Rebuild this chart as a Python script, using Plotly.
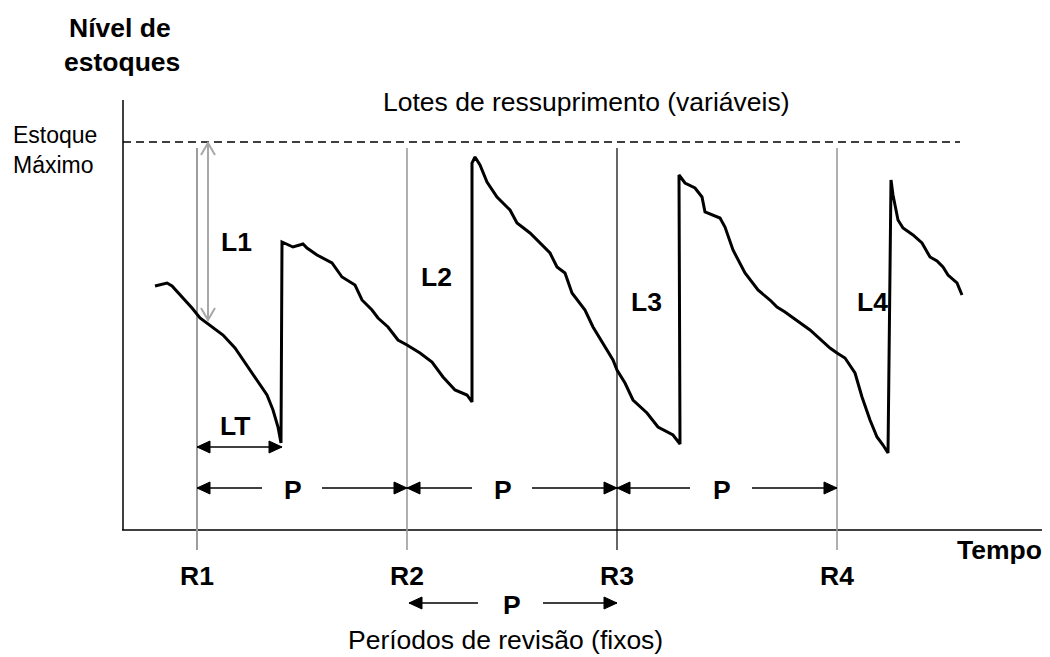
import plotly.graph_objects as go

# ---- data (time units, stock level units) ----
seg1_t = [32, 44, 49, 59, 69, 77, 89, 100, 112, 122, 134, 144, 150, 155, 158]
seg1_s = [244, 247, 244, 233, 222, 212, 203, 195, 182, 167, 150, 135, 120, 103, 87]
seg2_t = [159, 170, 180, 184, 194, 209, 219, 232, 239, 249, 255, 265, 275, 284, 297, 309, 320, 332, 344, 349]
seg2_s = [288, 283, 286, 282, 275, 267, 253, 245, 230, 220, 212, 203, 190, 185, 177, 168, 153, 140, 135, 128]
seg3_t = [349, 352, 357, 364, 374, 387, 394, 407, 417, 427, 434, 442, 449, 462, 470, 480, 490, 494, 502, 510, 524, 535, 550, 557]
seg3_s = [367, 373, 365, 348, 333, 320, 307, 297, 287, 277, 263, 257, 237, 220, 203, 187, 170, 160, 147, 130, 117, 103, 95, 86]
seg4_t = [556, 562, 572, 579, 582, 597, 602, 610, 622, 635, 647, 654, 662, 687, 707, 714, 722, 732, 739, 747, 754, 760, 765]
seg4_s = [355, 347, 342, 333, 318, 312, 303, 280, 257, 240, 230, 223, 218, 200, 182, 177, 172, 157, 133, 110, 93, 85, 77]
seg5_t = [768, 770, 775, 780, 790, 799, 807, 814, 820, 825, 834, 839]
seg5_s = [350, 335, 310, 302, 295, 287, 273, 269, 263, 255, 247, 235]

review_times = [74, 284, 494, 714]
review_labels = ["R1", "R2", "R3", "R4"]
lot_labels = ["L1", "L2", "L3", "L4"]
max_stock = 388

curve_t = seg1_t + seg2_t + seg3_t + seg4_t + seg5_t
curve_s = seg1_s + seg2_s + seg3_s + seg4_s + seg5_s

FONT = "Liberation Sans, Arial, Helvetica, sans-serif"
GRAY = "#9c9c9c"
FS = 26.5

fig = go.Figure()
fig.add_trace(go.Scatter(x=curve_t, y=curve_s, mode="lines",
                         line=dict(color="black", width=3), hoverinfo="skip",
                         showlegend=False))

shapes = []


def seg(x0, y0, x1, y1, color="black", width=1.5, dash=None):
    ln = dict(color=color, width=width)
    if dash:
        ln["dash"] = dash
    shapes.append(dict(type="line", x0=x0, y0=y0, x1=x1, y1=y1,
                       xref="x", yref="y", line=ln, layer="below"))


def tri(tx, ty, d, L=13, H=6):
    bx = tx - d * L
    shapes.append(dict(type="path",
                       path=f"M {tx},{ty} L {bx},{ty + H} L {bx},{ty - H} Z",
                       xref="x", yref="y", fillcolor="black",
                       line=dict(color="black", width=1)))


# axes
seg(0, 430, 0, 0, width=1.5)
seg(-1, 0, 923, 0, width=1.5)
# max stock dashed line
seg(0, max_stock, 837, max_stock, width=1.3, dash="8px,5px")
# review lines
rcolors = [GRAY, GRAY, "black", GRAY]
rwidths = [2, 1.6, 1.2, 1.6]
for t, c, w in zip(review_times, rcolors, rwidths):
    seg(t, 382, t, -20, color=c, width=w)

# L1 double arrow (open heads)
lx = 85
seg(lx, 387, lx, 210, color="#a8a8a8", width=2)
shapes.append(dict(type="path", path=f"M {lx-7},{387-12} L {lx},{387} L {lx+7},{387-12}",
                   xref="x", yref="y", line=dict(color="#a8a8a8", width=2)))
shapes.append(dict(type="path", path=f"M {lx-7},{210+12} L {lx},{210} L {lx+7},{210+12}",
                   xref="x", yref="y", line=dict(color="#a8a8a8", width=2)))

# LT arrow
ylt = 83
seg(74, ylt, 159, ylt)
tri(74, ylt, -1)
tri(159, ylt, 1)

# P arrows row
yp = 42
p_rows = [(74, 139, 199, 284, 170), (284, 349, 409, 494, 380), (494, 567, 629, 714, 599)]
for a, b, c, d, pc in p_rows:
    seg(a, yp, b, yp)
    tri(a, yp, -1)
    seg(c, yp, d, yp)
    tri(d, yp, 1)

# bottom P arrow
yb = -73
seg(286, yb, 355, yb)
tri(286, yb, -1)
seg(420, yb, 494, yb)
tri(494, yb, 1)

ann = []


def txt(x, y, s, size=FS, bold=False, xanchor="center", align="center"):
    ann.append(dict(x=x, y=y, xref="x", yref="y", text=f"<b>{s}</b>" if bold else s,
                    showarrow=False, xanchor=xanchor, yanchor="middle", align=align,
                    font=dict(family=FONT, size=size, color="black")))


txt(-3, 502, "Nível de", FS, True)
txt(-1, 468, "estoques", FS, True)
txt(-112, 380, "Estoque<br>Máximo", 23, xanchor="left", align="left")
txt(463, 428, "Lotes de ressuprimento (variáveis)", FS)
lot_pos = [(113, 288), (313, 253), (523, 228), (749, 228)]
for (x, y), s in zip(lot_pos, lot_labels):
    txt(x, y, s, FS, True)
txt(112, 104, "LT", FS, True)
for a, b, c, d, pc in p_rows:
    txt(pc, yp - 2, "P", FS, True)
txt(389, yb - 2, "P", FS, True)
for t, s in zip(review_times, review_labels):
    txt(t, -46, s, FS, True)
txt(876, -20, "Tempo", FS, True)
txt(382, -110, "Períodos de revisão (fixos)", FS)

# page has an 8px body margin: shift ranges so drawing lands where intended
fig.update_layout(
    width=1050, height=657,
    margin=dict(l=0, r=0, t=0, b=0),
    paper_bgcolor="white", plot_bgcolor="white",
    xaxis=dict(range=[-115, 935], visible=False, fixedrange=True),
    yaxis=dict(range=[-135, 522], visible=False, fixedrange=True),
    shapes=shapes, annotations=ann, showlegend=False,
)
fig.write_html("out.html")
